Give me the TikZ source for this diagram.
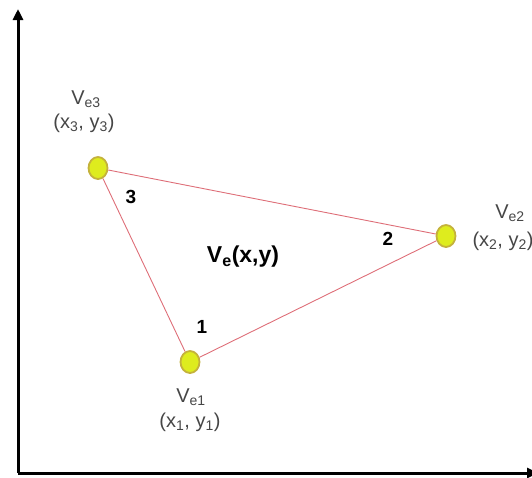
\documentclass[tikz,border=0pt]{standalone}
\usepackage{fontspec}
\setmainfont{Liberation Sans}
\usetikzlibrary{arrows.meta,shapes.geometric}
\definecolor{vfill}{RGB}{222,236,30}
\definecolor{vline}{RGB}{196,178,60}
\definecolor{edge}{RGB}{222,110,120}
\definecolor{lbl}{RGB}{70,70,70}
\tikzset{
  vert/.style={ellipse, draw=vline, fill=vfill, line width=1.8pt, minimum width=19pt, minimum height=22pt, inner sep=0pt},
  lab/.style={text=lbl, font=\fontsize{20}{22}\selectfont, inner sep=0pt},
  num/.style={font=\bfseries\fontsize{19}{21}\selectfont, inner sep=0pt},
  axis/.style={-{Triangle[length=11pt,width=10pt]}, line width=3pt}
}
\begin{document}
\begin{tikzpicture}[x=1pt, y=-1pt]
            \useasboundingbox (0,0) rectangle (532,477);

            \coordinate (o) at (18,473);
            \coordinate (ytop) at (18,9);
            \coordinate (xend) at (538,473);
            \draw[axis] (o) -- (ytop);
            \draw[axis] (o) -- (xend);

            \node[vert] (v3) at (98,168) {};
            \node[vert] (v2) at (446,236) {};
            \node[vert] (v1) at (190,362) {};

            \draw[edge, line width=0.9pt] (v3) -- (v2);
            \draw[edge, line width=0.9pt] (v2) -- (v1);
            \draw[edge, line width=0.9pt] (v1) -- (v3);

            \node[lab] (l3a) at (86,99) {V\textsubscript{e3}};
            \node[lab] (l3b) at (84,123) {(x\textsubscript{3}, y\textsubscript{3})};
            \node[lab] (l2a) at (510,213) {V\textsubscript{e2}};
            \node[lab] (l2b) at (503,241) {(x\textsubscript{2}, y\textsubscript{2})};
            \node[lab] (l1a) at (191,397) {V\textsubscript{e1}};
            \node[lab] (l1b) at (190,422) {(x\textsubscript{1}, y\textsubscript{1})};

            \node[num] (n3) at (131,197) {3};
            \node[num] (n2) at (388,239) {2};
            \node[num] (n1) at (202,327) {1};

            \node[font=\bfseries\fontsize{23}{25}\selectfont, inner sep=0pt] (ve) at (243,257) {V\textsubscript{e}(x,y)};
        \end{tikzpicture}
\end{document}
